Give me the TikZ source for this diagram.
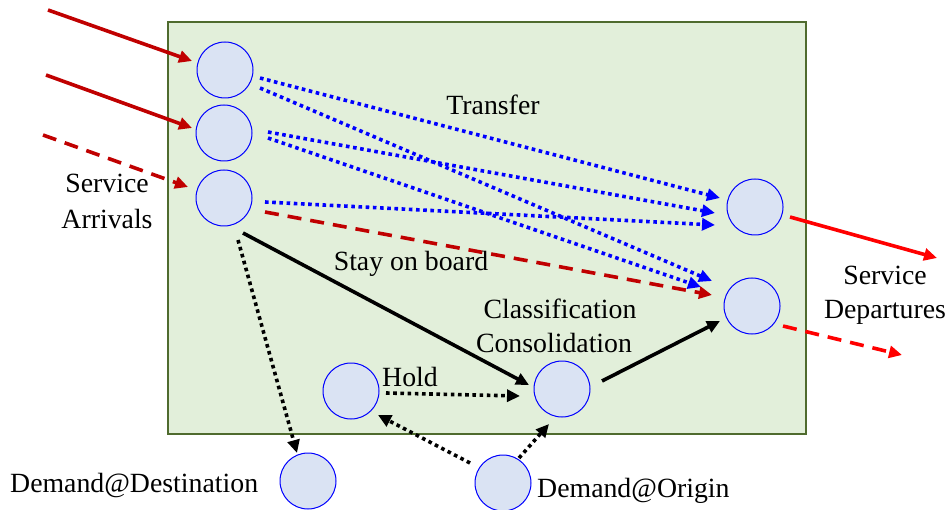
\documentclass[tikz,border=0pt]{standalone}
\usepackage{fontspec}
\setmainfont{Liberation Serif}
\usetikzlibrary{arrows.meta}
\definecolor{panelfill}{HTML}{E2EFDA}
\definecolor{panelline}{HTML}{4F6B2E}
\definecolor{nodefill}{HTML}{DAE3F3}
\definecolor{darkred}{HTML}{C00000}
\tikzset{
  station/.style={circle, draw=blue, line width=1pt, fill=nodefill, minimum size=56pt, inner sep=0pt},
  lbl/.style={font=\fontsize{27.8}{34}\selectfont, align=center, inner sep=0pt},
  tip/.style={-{Triangle[length=13pt,width=12pt]}},
  inflow/.style={tip, line width=3.6pt, draw=darkred},
  inflowdash/.style={inflow, dash pattern=on 14pt off 9pt},
  outflow/.style={tip, line width=3.6pt, draw=red},
  outflowdash/.style={outflow, dash pattern=on 14pt off 9pt},
  transfer/.style={tip, line width=3.6pt, draw=blue, dash pattern=on 3.6pt off 3.6pt},
  carry/.style={tip, line width=3.6pt, draw=black},
  local/.style={tip, line width=3.6pt, draw=black, dash pattern=on 3.6pt off 3.6pt},
}
\begin{document}
\begin{tikzpicture}[x=1pt, y=-1pt]
\useasboundingbox (0,0) rectangle (949,510);
% yard area
\draw[panelline, line width=2.4pt, fill=panelfill] (168,22) rectangle (806,434);

% stations
\node[station] (a1) at (225,70) {};
\node[station] (a2) at (224,133) {};
\node[station] (a3) at (224,198) {};
\node[station] (d1) at (755,207) {};
\node[station] (d2) at (752,306) {};
\node[station] (hold) at (351,391) {};
\node[station] (cons) at (562,389) {};
\node[station] (dest) at (308,481) {};
\node[station] (orig) at (503,483) {};

% free ends of the outside flows
\coordinate (in1) at (48,10);
\coordinate (in2) at (46,75);
\coordinate (in3) at (43,135);
\coordinate (out1) at (937,258);
\coordinate (out2) at (902,355);

% arrivals
\draw[inflow] (in1) -- ([shift={(-33,-9)}]a1.center);
\draw[inflow] (in2) -- ([shift={(-32,-5)}]a2.center);
\draw[inflowdash] (in3) -- ([shift={(-36,-11)}]a3.center);

% departures
\draw[outflow] ([shift={(35,10)}]d1.center) -- (out1);
\draw[outflowdash] ([shift={(31,20)}]d2.center) -- (out2);

% transfers
\draw[transfer] ([shift={(35,8)}]a1.center) -- ([shift={(-35,-9)}]d1.center);
\draw[transfer] ([shift={(35,18)}]a1.center) -- ([shift={(-40,-25)}]d2.center);
\draw[transfer] ([shift={(44,-1)}]a2.center) -- ([shift={(-40,6)}]d1.center);
\draw[transfer] ([shift={(44,5)}]a2.center) -- ([shift={(-51,-19)}]d2.center);
\draw[transfer] ([shift={(41,4)}]a3.center) -- ([shift={(-40,18)}]d1.center);

% stay on board
\draw[inflowdash] ([shift={(41,14)}]a3.center) -- ([shift={(-40,-11)}]d2.center);
\draw[carry] ([shift={(19,35)}]a3.center) -- ([shift={(-33,-4)}]cons.center);
\draw[carry] ([shift={(40,-8)}]cons.center) -- ([shift={(-32,15)}]d2.center);

% local moves
\draw[local] ([shift={(14,42)}]a3.center) -- ([shift={(-11,-28)}]dest.center);
\draw[local] ([shift={(35,2)}]hold.center) -- ([shift={(-42,7)}]cons.center);
\draw[local] ([shift={(-33,-20)}]orig.center) -- ([shift={(27,24)}]hold.center);
\draw[local] ([shift={(16,-25)}]orig.center) -- ([shift={(-13,35)}]cons.center);

% labels
\node[lbl, anchor=base] at (107,193) {Service};
\node[lbl, anchor=base] at (107,229) {Arrivals};
\node[lbl, anchor=base] at (885,284) {Service};
\node[lbl, anchor=base] at (885,318) {Departures};
\node[lbl, anchor=base] at (493,115) {Transfer};
\node[lbl, anchor=base] at (411,270) {Stay on board};
\node[lbl, anchor=base] at (560,318) {Classification};
\node[lbl, anchor=base] at (554,352) {Consolidation};
\node[lbl, anchor=base west] at (382,386) {Hold};
\node[lbl, anchor=base west] at (10,492) {Demand@Destination};
\node[lbl, anchor=base west] at (537,497) {Demand@Origin};
\end{tikzpicture}
\end{document}
